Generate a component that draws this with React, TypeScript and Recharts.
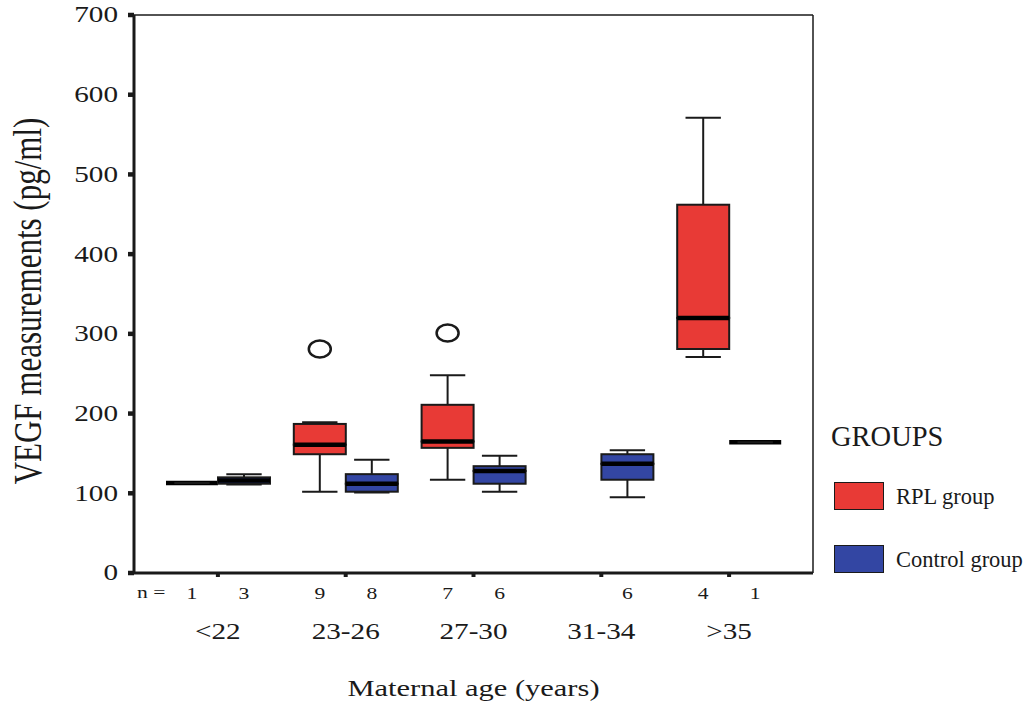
import React from 'react';
import { ComposedChart, Bar, XAxis, YAxis, ReferenceLine, LabelList } from 'recharts';

// age groups on the x axis
const AGE_GROUPS = ['<22', '23-26', '27-30', '31-34', '>35'];

// RPL group (null = no data)
const RPL_N = [1, 9, 7, null, 4];
const RPL_MIN = [113, 102, 117, null, 271];
const RPL_Q1 = [113, 149, 157, null, 281];
const RPL_MED = [113, 161, 165, null, 320];
const RPL_Q3 = [113, 187, 211, null, 462];
const RPL_MAX = [113, 189, 248, null, 571];
const RPL_OUT = [null, 281, 301, null, null];

// Control group
const CTL_N = [3, 8, 6, 6, 1];
const CTL_MIN = [111, 101, 102, 95, 164];
const CTL_Q1 = [112, 102, 112, 117, 164];
const CTL_MED = [116, 112, 128, 137, 164];
const CTL_Q3 = [120, 124, 134, 149, 164];
const CTL_MAX = [124, 142, 147, 154, 164];
const CTL_OUT = [null, null, null, null, null];

const Y_TICKS = [0, 100, 200, 300, 400, 500, 600, 700];

const RED = '#E83A36';
const BLUE = '#3346A3';
const INK = '#1a1a1a';
const FONT = '"Liberation Serif", "Times New Roman", serif';
const SX = 1.27; // the source figure is stretched horizontally

const diff = (a: number | null, b: number | null) => (a == null || b == null ? null : a - b);

const rows = AGE_GROUPS.map((group, i) => ({
  group,
  rplN: RPL_N[i],
  rplBase: RPL_MIN[i],
  rplLw: diff(RPL_Q1[i], RPL_MIN[i]),
  rplLb: diff(RPL_MED[i], RPL_Q1[i]),
  rplUb: diff(RPL_Q3[i], RPL_MED[i]),
  rplUw: diff(RPL_MAX[i], RPL_Q3[i]),
  rplGap: diff(RPL_OUT[i], RPL_MAX[i]),
  ctlN: CTL_N[i],
  ctlBase: CTL_MIN[i],
  ctlLw: diff(CTL_Q1[i], CTL_MIN[i]),
  ctlLb: diff(CTL_MED[i], CTL_Q1[i]),
  ctlUb: diff(CTL_Q3[i], CTL_MED[i]),
  ctlUw: diff(CTL_MAX[i], CTL_Q3[i]),
  ctlGap: diff(CTL_OUT[i], CTL_MAX[i]),
}));

const box = (p: any) => {
  const top = Math.min(p.y, p.y + p.height);
  const h = Math.abs(p.height);
  return { x: p.x, w: p.width, top, bottom: top + h, h, cx: p.x + p.width / 2 };
};

const missing = (p: any, key: string) => p.payload == null || p.payload[key] == null;

const Empty = () => <g />;

const makeLowerWhisker = (key: string) => (p: any) => {
  if (missing(p, key)) return <g />;
  const b = box(p);
  const cap = b.w * 0.34;
  return (
    <g stroke={INK} strokeWidth={2}>
      <line x1={b.cx} x2={b.cx} y1={b.top} y2={b.bottom} />
      <line x1={b.cx - cap} x2={b.cx + cap} y1={b.bottom} y2={b.bottom} />
    </g>
  );
};

const makeUpperWhisker = (key: string) => (p: any) => {
  if (missing(p, key)) return <g />;
  const b = box(p);
  const cap = b.w * 0.34;
  return (
    <g stroke={INK} strokeWidth={2}>
      <line x1={b.cx} x2={b.cx} y1={b.top} y2={b.bottom} />
      <line x1={b.cx - cap} x2={b.cx + cap} y1={b.top} y2={b.top} />
    </g>
  );
};

const makeLowerBox = (key: string, color: string) => (p: any) => {
  if (missing(p, key)) return <g />;
  const b = box(p);
  if (b.h < 0.5) return <g />;
  return <rect x={b.x} y={b.top} width={b.w} height={b.h} fill={color} stroke={INK} strokeWidth={2} />;
};

const makeUpperBox = (key: string, color: string) => (p: any) => {
  if (missing(p, key)) return <g />;
  const b = box(p);
  return (
    <g>
      {b.h >= 0.5 && <rect x={b.x} y={b.top} width={b.w} height={b.h} fill={color} stroke={INK} strokeWidth={2} />}
      {/* median */}
      <line x1={b.x} x2={b.x + b.w} y1={b.bottom} y2={b.bottom} stroke="#000" strokeWidth={4.5} />
    </g>
  );
};

const makeOutlier = (key: string) => (p: any) => {
  if (missing(p, key)) return <g />;
  const b = box(p);
  return <ellipse cx={b.cx} cy={b.top} rx={11} ry={8.5} fill="none" stroke={INK} strokeWidth={2.5} />;
};

const StretchText = ({ x, y, size, anchor = 'middle', children }: any) => (
  <text
    transform={`translate(${x},${y}) scale(${SX},1)`}
    textAnchor={anchor}
    dominantBaseline="central"
    fontSize={size}
    fontFamily={FONT}
    fill={INK}
  >
    {children}
  </text>
);

const NLabel = (props: any) => {
  const v = props.viewBox ?? props;
  if (props.value == null) return null;
  return (
    <StretchText x={v.x + v.width / 2} y={Math.max(v.y, v.y + v.height) + 20} size={17}>
      {props.value}
    </StretchText>
  );
};

const YTick = (p: any) => (
  <StretchText x={p.x} y={p.y} size={23} anchor="end">
    {p.payload.value}
  </StretchText>
);

const XTick = (p: any) => (
  <StretchText x={p.x} y={632} size={23}>
    {p.payload.value}
  </StretchText>
);

const YTitle = (p: any) => {
  const vb = p.viewBox;
  const cx = vb.x + 28;
  const cy = vb.y + vb.height / 2 + 7;
  return (
    <text
      transform={`translate(${cx},${cy}) scale(${SX},1) rotate(-90)`}
      textAnchor="middle"
      dominantBaseline="central"
      fontSize={31}
      fontFamily={FONT}
      fill={INK}
    >
      VEGF measurements (pg/ml)
    </text>
  );
};

const XTitle = (p: any) => {
  const vb = p.viewBox;
  return (
    <StretchText x={vb.x + vb.width / 2} y={688} size={24}>
      Maternal age (years)
    </StretchText>
  );
};

const series = [
  { key: 'rpl', color: RED },
  { key: 'ctl', color: BLUE },
];

const App = () => (
  <div style={{ position: 'absolute', left: 0, top: 0, width: 1031, height: 705, background: '#fff' }}>
    <ComposedChart
      width={1031}
      height={705}
      data={rows}
      margin={{ top: 15, right: 217, left: 0, bottom: 72 }}
      barSize={52}
      barGap={0}
    >
      <XAxis
        dataKey="group"
        height={60}
        padding={{ left: 20, right: 20 }}
        axisLine={{ stroke: INK, strokeWidth: 3 }}
        tickLine={{ stroke: INK, strokeWidth: 4 }}
        tickSize={4}
        tick={<XTick />}
        label={<XTitle />}
      />
      <YAxis
        width={134}
        domain={[0, 700]}
        ticks={Y_TICKS}
        allowDataOverflow
        axisLine={{ stroke: INK, strokeWidth: 3 }}
        tickLine={{ stroke: INK, strokeWidth: 4.5 }}
        tickSize={6}
        tickMargin={10}
        tick={<YTick />}
        label={<YTitle />}
      />
      <YAxis
        yAxisId="r"
        orientation="right"
        width={1}
        domain={[0, 700]}
        tick={false}
        tickLine={false}
        axisLine={{ stroke: INK, strokeWidth: 1.5 }}
      />
      <ReferenceLine y={700} stroke={INK} strokeWidth={1.5} />
      {series.map((s) => [
        <Bar key={s.key + 'Base'} dataKey={s.key + 'Base'} stackId={s.key} shape={<Empty />} isAnimationActive={false}>
          <LabelList dataKey={s.key + 'N'} content={<NLabel />} />
        </Bar>,
        <Bar key={s.key + 'Lw'} dataKey={s.key + 'Lw'} stackId={s.key} shape={makeLowerWhisker(s.key + 'Lw')} isAnimationActive={false} />,
        <Bar key={s.key + 'Lb'} dataKey={s.key + 'Lb'} stackId={s.key} shape={makeLowerBox(s.key + 'Lb', s.color)} isAnimationActive={false} />,
        <Bar key={s.key + 'Ub'} dataKey={s.key + 'Ub'} stackId={s.key} shape={makeUpperBox(s.key + 'Ub', s.color)} isAnimationActive={false} />,
        <Bar key={s.key + 'Uw'} dataKey={s.key + 'Uw'} stackId={s.key} shape={makeUpperWhisker(s.key + 'Uw')} isAnimationActive={false} />,
        <Bar key={s.key + 'Gap'} dataKey={s.key + 'Gap'} stackId={s.key} shape={makeOutlier(s.key + 'Gap')} isAnimationActive={false} />,
      ])}
    </ComposedChart>

    <div
      style={{
        position: 'absolute', left: 137, top: 582, fontFamily: FONT, fontSize: 17, color: INK,
        transform: `scale(${SX},1)`, transformOrigin: 'left center', lineHeight: '22px',
      }}
    >
      n =
    </div>

    <div style={{ position: 'absolute', left: 831, top: 420, fontFamily: FONT, fontSize: 28.5, color: INK, lineHeight: '34px' }}>
      GROUPS
    </div>
    <div style={{ position: 'absolute', left: 834, top: 482, width: 48, height: 26, background: RED, border: `1.5px solid ${INK}` }} />
    <div style={{ position: 'absolute', left: 896, top: 484, fontFamily: FONT, fontSize: 22.5, color: INK, lineHeight: '26px' }}>
      RPL group
    </div>
    <div style={{ position: 'absolute', left: 834, top: 545, width: 48, height: 26, background: BLUE, border: `1.5px solid ${INK}` }} />
    <div style={{ position: 'absolute', left: 896, top: 547, fontFamily: FONT, fontSize: 22.5, color: INK, lineHeight: '26px' }}>
      Control group
    </div>
  </div>
);

export default App;
